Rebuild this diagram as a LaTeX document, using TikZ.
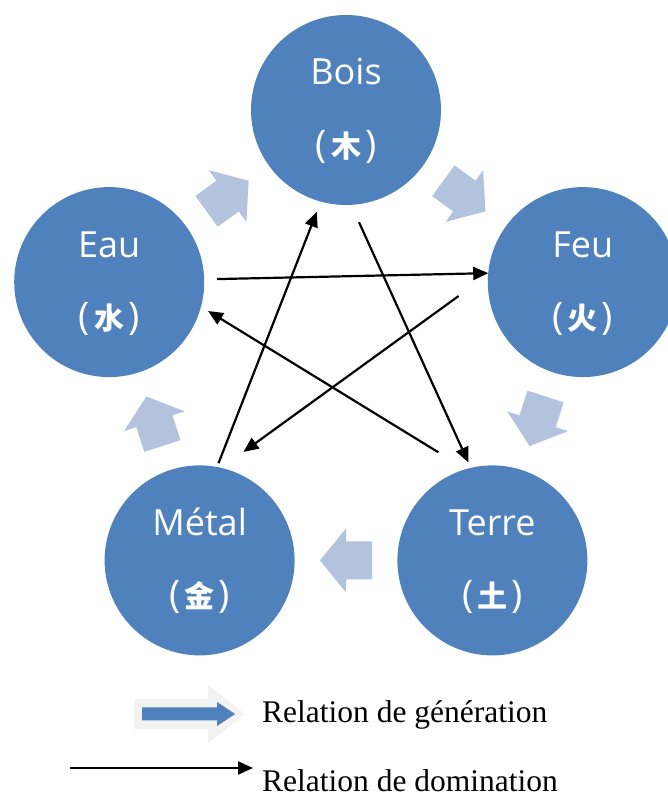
\documentclass[tikz,border=0pt]{standalone}
\usepackage{fontspec}
\setmainfont{Liberation Serif}
\newfontfamily\labfont{Open Sans}
\newfontfamily\cjk{Noto Sans CJK SC}
\usetikzlibrary{arrows.meta,calc}
\definecolor{elblue}{RGB}{79,129,189}
\definecolor{genblue}{RGB}{179,195,222}
\definecolor{glowgray}{RGB}{242,242,242}
\tikzset{
 element/.style={circle, fill=elblue, draw=none, minimum size=190pt, inner sep=0pt},
 elname/.style={text=white, font=\labfont\fontsize{36}{40}\selectfont, inner sep=0pt, anchor=base},
 elchar/.style={text=white, font=\labfont\fontsize{38}{42}\selectfont, inner sep=0pt},
 dom/.style={line width=2.2pt, -{Triangle[length=15pt,width=13pt]}},
 gen/.style={fill=genblue, draw=none},
 legtext/.style={font=\fontsize{31.5}{35}\selectfont, anchor=base west, inner sep=0pt},
}
\newcommand{\genarrow}[2]{%
 \path[gen, shift={#1}, rotate=#2] (-26,-19) -- (0,-19) -- (0,-32) -- (26,0) -- (0,32) -- (0,19) -- (-26,19) -- cycle;}
\newcommand{\elchars}[1]{(\hspace{4pt}{\cjk\bfseries\fontsize{30}{34}\selectfont #1}\hspace{4pt})}
\begin{document}
\begin{tikzpicture}[x=1pt,y=1pt]
\clip (0,0) rectangle (668,798);
% elements
\node[element] (bois)  at (346.0,688.0) {};
\node[element] (feu)   at (582.8,515.9) {};
\node[element] (terre) at (492.4,237.6) {};
\node[element] (metal) at (199.6,237.6) {};
\node[element] (eau)   at (109.2,515.9) {};
\foreach \n/\t/\c in {bois/Bois/木, feu/Feu/火, terre/Terre/土, metal/Métal/金, eau/Eau/水}{
  \node[elname] (\n-name) at ([yshift=25pt]\n.center) {\t};
  \node[elchar] (\n-char) at ([yshift=-37pt]\n.center) {\elchars{\c}};
}
% generation arrows
\genarrow{($(eau)!0.5!(bois)$)}{36}
\genarrow{($(bois)!0.5!(feu)$)}{-36}
\genarrow{($(feu)!0.5!(terre)$)}{-108}
\genarrow{($(terre)!0.5!(metal)$)}{180}
\genarrow{($(metal)!0.5!(eau)$)}{108}
% domination arrows
\coordinate (d1s) at ([shift={(79:99)}]metal.center);
\coordinate (d1e) at ([shift={(254:106)}]bois.center);
\coordinate (d2s) at ([shift={(276.6:113)}]bois.center);
\coordinate (d2e) at ([shift={(103.8:101)}]terre.center);
\coordinate (d3s) at ([shift={(1.6:108)}]eau.center);
\coordinate (d3e) at ([shift={(174.6:95)}]feu.center);
\coordinate (d4s) at ([shift={(186.4:125)}]feu.center);
\coordinate (d4e) at ([shift={(68:117)}]metal.center);
\coordinate (d5s) at ([shift={(116.6:121)}]terre.center);
\coordinate (d5e) at ([shift={(-16.3:103)}]eau.center);
\draw[dom] (d1s) -- (d1e);
\draw[dom] (d2s) -- (d2e);
\draw[dom] (d3s) -- (d3e);
\draw[dom] (d4s) -- (d4e);
\draw[dom] (d5s) -- (d5e);
% legend
\path[fill=glowgray] (134,69) -- (208,69) -- (208,55) -- (245,84) -- (208,113) -- (208,99) -- (134,99) -- cycle;
\path[fill=elblue] (142,77.5) -- (217,77.5) -- (217,72) -- (235,84) -- (217,96) -- (217,90.5) -- (142,90.5) -- cycle;
\node[legtext] (leggen) at (262,75) {Relation de génération};
\coordinate (legs) at (70,30);
\coordinate (lege) at (253,30);
\draw[dom] (legs) -- (lege);
\node[legtext] (legdom) at (262,6) {Relation de domination};
\end{tikzpicture}
\end{document}
